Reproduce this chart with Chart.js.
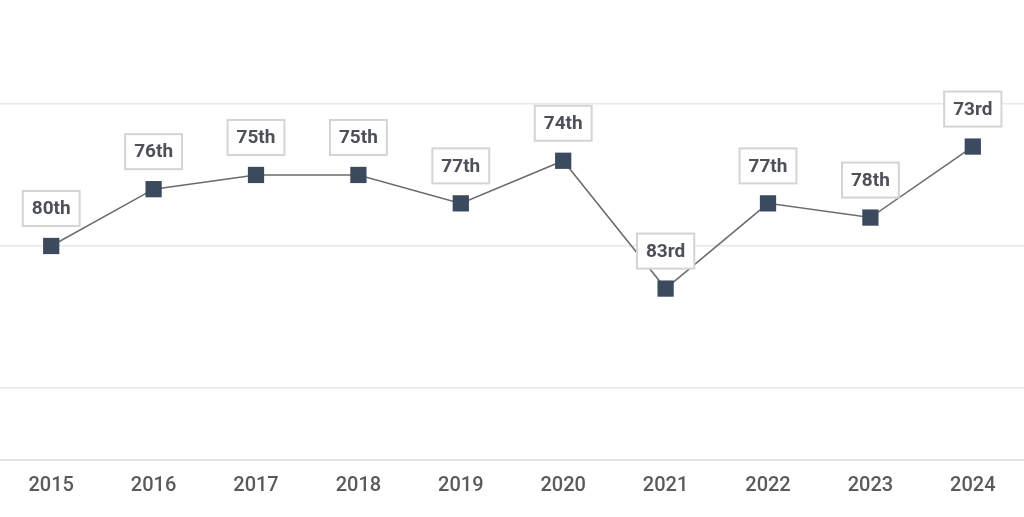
<!DOCTYPE html>
<html>
<head>
<meta charset="utf-8">
<script src="https://cdn.jsdelivr.net/npm/chart.js@4/dist/chart.umd.min.js"></script>
<style>
  html,body{margin:0;padding:0;background:#ffffff;}
  #wrap{width:1024px;height:517px;position:relative;}
</style>
</head>
<body>
<div id="wrap"><canvas id="c"></canvas></div>
<script>
const years = ["2015","2016","2017","2018","2019","2020","2021","2022","2023","2024"];
const ranks = [80, 76, 75, 75, 77, 74, 83, 77, 78, 73];
const rankLabels = ["80th","76th","75th","75th","77th","74th","83rd","77th","78th","73rd"];
const gridTicks = [70, 80, 90];

const labelPlugin = {
  id: 'rankLabels',
  afterDatasetsDraw(chart) {
    const ctx = chart.ctx;
    const meta = chart.getDatasetMeta(0);
    ctx.save();
    ctx.font = 'bold 19px Roboto, "Open Sans", sans-serif';
    ctx.textAlign = 'center';
    ctx.textBaseline = 'middle';
    meta.data.forEach((pt, i) => {
      const txt = rankLabels[i];
      const w = ctx.measureText(txt).width + 18;
      const h = 35;
      const x = pt.x;
      const bottom = pt.y - 20;
      const top = bottom - h;
      ctx.fillStyle = '#ffffff';
      ctx.fillRect(x - w/2, top, w, h);
      ctx.strokeStyle = '#d4d4d4';
      ctx.lineWidth = 2;
      ctx.strokeRect(x - w/2, top, w, h);
      ctx.fillStyle = '#4d5058';
      ctx.fillText(txt, x, top + h/2 + 1);
    });
    ctx.restore();
  }
};

new Chart(document.getElementById('c'), {
  type: 'line',
  data: {
    labels: years,
    datasets: [{
      data: ranks,
      borderColor: '#6b6b6b',
      borderWidth: 1.5,
      pointStyle: 'rect',
      pointRadius: 11.5,
      pointHoverRadius: 11.5,
      pointBackgroundColor: '#3b4a5e',
      pointBorderColor: '#3b4a5e',
      pointBorderWidth: 0,
      tension: 0,
      fill: false
    }]
  },
  options: {
    responsive: true,
    maintainAspectRatio: false,
    animation: false,
    layout: { autoPadding: false, padding: { left: 0, right: 0, top: 0, bottom: 5 } },
    plugins: { legend: { display: false }, tooltip: { enabled: false } },
    scales: {
      x: {
        offset: true,
        grid: { display: false, drawTicks: false },
        border: { display: true, color: '#e3e3e3', width: 2 },
        ticks: {
          padding: 14,
          color: '#5a5a5a',
          font: { family: 'Roboto, "Open Sans", sans-serif', size: 20, weight: 500 }
        }
      },
      y: {
        reverse: true,
        min: 62.68,
        max: 95.07,
        afterBuildTicks(axis) { axis.ticks = gridTicks.map(v => ({ value: v })); },
        grid: { color: '#e6e8ee', lineWidth: 1.5, drawTicks: false },
        border: { display: false },
        ticks: { display: false }
      }
    }
  },
  plugins: [labelPlugin]
});
</script>
</body>
</html>
